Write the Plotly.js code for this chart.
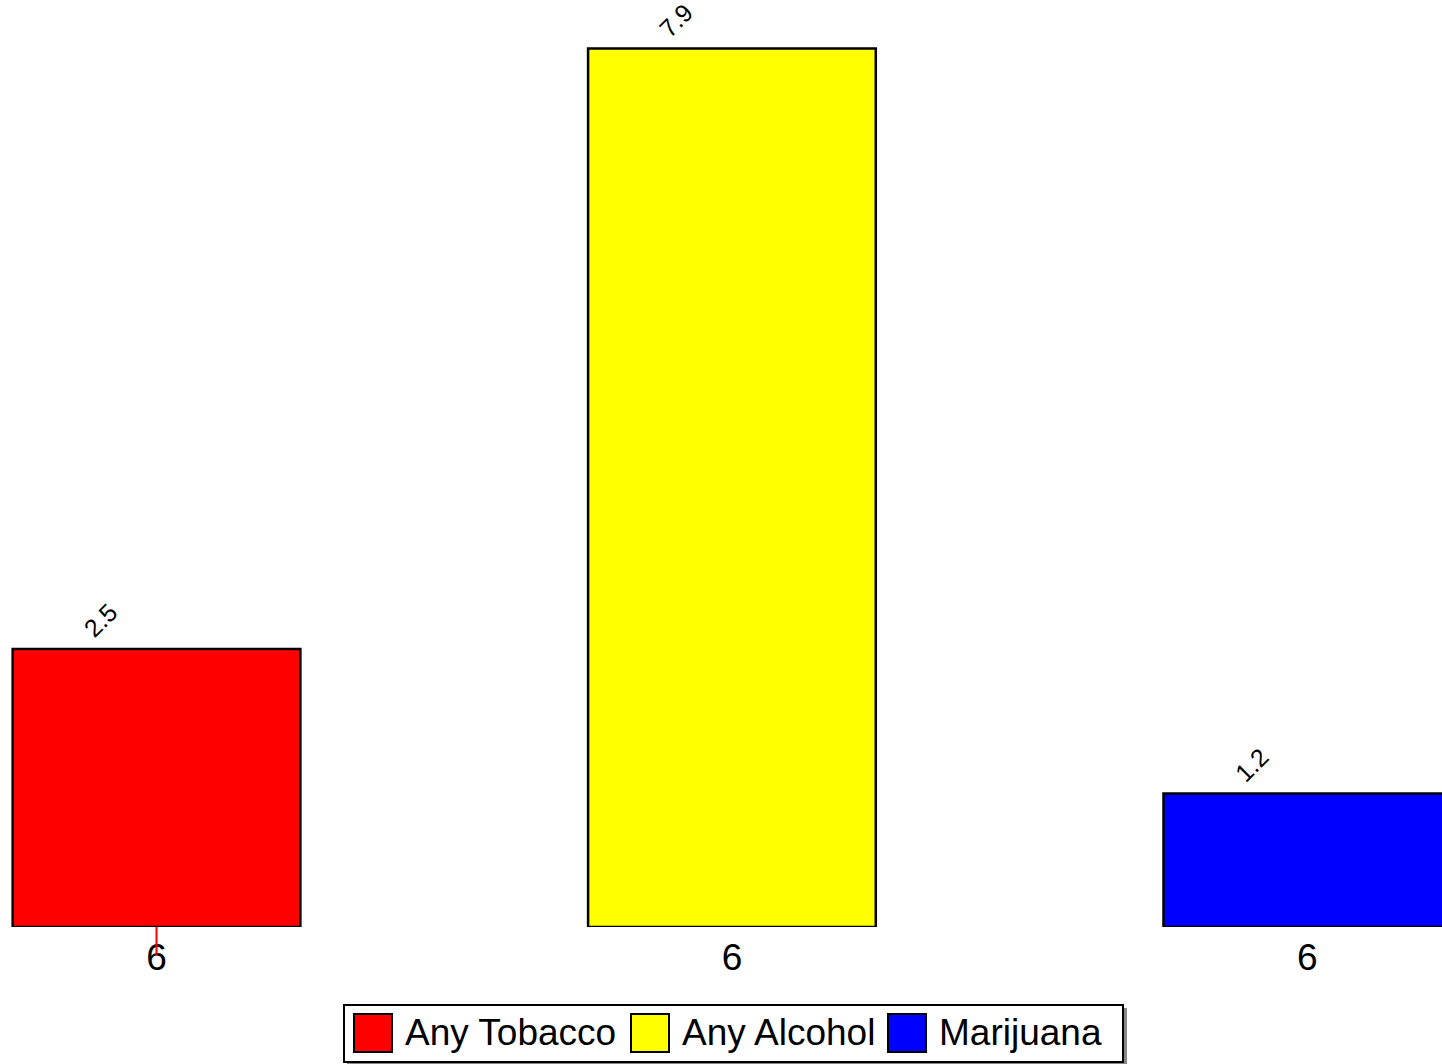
<!DOCTYPE html>
<html>
<head>
<meta charset="utf-8">
<script src="https://cdn.plot.ly/plotly-3.0.1.min.js"></script>
<style>
  html, body { margin: 0; padding: 0; background: #ffffff; }
  #chart { width: 1442px; height: 1064px; }
</style>
</head>
<body>
<div id="chart"></div>
<script>
// ---- data ----
var seriesNames = ["Any Tobacco", "Any Alcohol", "Marijuana"];
var seriesValues = [2.5, 7.9, 1.2];
var seriesColors = ["#ff0000", "#ffff00", "#0000ff"];
var tickLabels = ["6", "6", "6"];
var positions = [0, 1, 2];

// ---- layout helpers (pixels -> paper) ----
var W = 1442, H = 1064, mB = 137;
var plotH = H - mB;
function px(x) { return x / W; }
function py(y) { return (plotH - y) / plotH; }
var FONT = "Liberation Sans, Arial, sans-serif";

var traces = seriesNames.map(function (name, i) {
  return {
    type: "bar",
    name: name,
    x: [positions[i]],
    y: [seriesValues[i]],
    width: 0.5,
    marker: { color: seriesColors[i], line: { color: "#000000", width: 2.5 } },
    hoverinfo: "x+y+name",
    cliponaxis: true
  };
});

var annotations = seriesValues.map(function (v, i) {
  return {
    x: positions[i], y: v, xref: "x", yref: "y",
    text: v.toFixed(1), showarrow: false, textangle: -45,
    xanchor: "center", yanchor: "middle",
    xshift: -56, yshift: 29,
    font: { family: FONT, size: 25, color: "#000000" }
  };
});

// custom legend (large swatches)
var shapes = [];
// shadow
shapes.push({ type: "rect", xref: "paper", yref: "paper",
  x0: px(347), x1: px(1127), y0: py(1008), y1: py(1066),
  fillcolor: "#888888", line: { width: 0 }, layer: "above" });
// box
shapes.push({ type: "rect", xref: "paper", yref: "paper",
  x0: px(344), x1: px(1123), y0: py(1005), y1: py(1062),
  fillcolor: "#ffffff", line: { color: "#000000", width: 2 }, layer: "above" });

var swatchX = [354, 631, 888];
var textX = [403, 680, 937];
seriesNames.forEach(function (name, i) {
  shapes.push({ type: "rect", xref: "paper", yref: "paper",
    x0: px(swatchX[i]), x1: px(swatchX[i] + 38), y0: py(1014), y1: py(1052),
    fillcolor: seriesColors[i], line: { color: "#000000", width: 2 }, layer: "above" });
  annotations.push({ xref: "paper", yref: "paper", x: px(textX[i]), y: py(1032),
    xanchor: "left", yanchor: "middle", showarrow: false, text: name,
    font: { family: FONT, size: 37, color: "#000000" } });
});

// small red tick under the first bar
shapes.push({ type: "line", xref: "x", yref: "paper",
  x0: positions[0], x1: positions[0], y0: 0, y1: py(955),
  line: { color: "#ff0000", width: 2 }, layer: "above" });

var layout = {
  width: W, height: H,
  margin: { l: 0, r: 0, t: 0, b: mB, pad: 0 },
  paper_bgcolor: "#ffffff", plot_bgcolor: "#ffffff",
  showlegend: false,
  xaxis: {
    range: [-0.272, 2.234],
    tickmode: "array", tickvals: positions, ticktext: tickLabels,
    ticks: "", showgrid: false, zeroline: false, showline: false,
    ticklabelstandoff: 5,
    tickfont: { family: FONT, size: 37, color: "#000000" },
    fixedrange: true
  },
  yaxis: {
    range: [0, 8.337],
    visible: false, showgrid: false, zeroline: false, fixedrange: true
  },
  shapes: shapes,
  annotations: annotations
};

Plotly.newPlot("chart", traces, layout, { displayModeBar: false, staticPlot: true });
</script>
</body>
</html>
